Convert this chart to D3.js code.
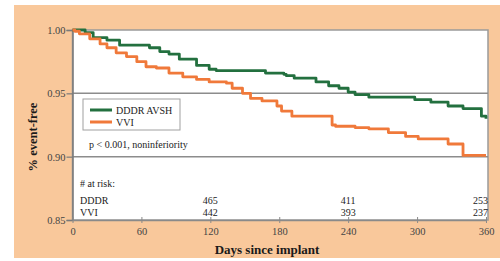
<!DOCTYPE html>
<html lang="en">

<head>
  <script src="https://cdn.jsdelivr.net/npm/d3@7/dist/d3.min.js"></script>

  <style>
    body {
      margin: 0;
      background: #fff;
      overflow: hidden;
    }

    svg text {
      font-family: "Liberation Serif", "DejaVu Serif", serif;
      fill: #222;
    }

    .tick text {
      font-size: 10.5px;
      fill: #444;
    }

    .title {
      font-weight: bold;
      fill: #1a1a1a;
    }

    .note {
      font-size: 10px;
    }
  </style>
</head>

<body>
  <svg id="chart" width="500" height="261"></svg>

  <script>
    // Kaplan-Meier steps (day, fraction event-free)
    var dddrDays = [0, 11, 18, 30, 41, 67, 76, 84, 93, 108, 119, 125, 168, 184, 186, 193, 212, 223, 232, 240, 246, 258, 298, 312, 327, 340, 356, 360];
    var dddrSurv = [1.000, 0.998, 0.994, 0.992, 0.988, 0.986, 0.983, 0.981, 0.977, 0.972, 0.969, 0.968, 0.966, 0.965, 0.964, 0.962, 0.959, 0.956, 0.954, 0.951, 0.949, 0.947, 0.945, 0.943, 0.940, 0.938, 0.932, 0.930];

    var vviDays = [0, 2, 6, 15, 24, 30, 38, 47, 56, 64, 73, 84, 96, 108, 119, 134, 139, 148, 155, 165, 178, 182, 191, 226, 229, 246, 258, 275, 290, 301, 327, 340, 360];
    var vviSurv = [1.000, 0.999, 0.997, 0.993, 0.989, 0.986, 0.982, 0.979, 0.975, 0.971, 0.970, 0.966, 0.963, 0.961, 0.959, 0.958, 0.954, 0.950, 0.946, 0.944, 0.940, 0.936, 0.932, 0.925, 0.924, 0.923, 0.922, 0.919, 0.916, 0.914, 0.910, 0.901, 0.901];

    var seriesNames = ['DDDR AVSH', 'VVI'];
    var seriesColors = ['#23703f', '#f0793a'];

    var xTicks = [0, 60, 120, 180, 240, 300, 360];
    var yTicks = [0.85, 0.90, 0.95, 1.00];
    var gridValues = [0.95, 0.90];

    var riskDays = [120, 240, 360];
    var riskGroups = ['DDDR', 'VVI'];
    var riskDDDR = [465, 411, 253];
    var riskVVI = [442, 393, 237];

    var margin = { top: 30, left: 72.5, bottom: 41, right: 12 };
    var width = 500 - margin.left - margin.right;
    var height = 261 - margin.top - margin.bottom;

    var svg = d3.select('#chart');

    // peach panel behind everything
    svg.append('rect')
      .attr('x', 14).attr('y', 5)
      .attr('width', 486).attr('height', 253)
      .attr('fill', '#f9c89b');

    var g = svg.append('g')
      .attr('transform', 'translate(' + margin.left + ',' + margin.top + ')');

    var xScale = d3.scaleLinear().domain([0, 360]).range([0, width - 2]);
    var yScale = d3.scaleLinear().domain([0.85, 1.00]).range([height, 0]);

    g.append('rect')
      .attr('width', width).attr('height', height)
      .attr('fill', '#fff')
      .attr('stroke', '#9a9a9a')
      .attr('stroke-width', 1.5);

    g.selectAll('.grid')
      .data(gridValues)
      .enter().append('line')
      .attr('class', 'grid')
      .attr('x1', 0).attr('x2', width)
      .attr('y1', function (d) { return yScale(d); })
      .attr('y2', function (d) { return yScale(d); })
      .attr('stroke', '#8c8c8c')
      .attr('stroke-width', 1.5);

    var yAxis = d3.axisLeft(yScale)
      .tickValues(yTicks)
      .tickFormat(d3.format('.2f'))
      .tickSize(6)
      .tickPadding(1);

    var xAxis = d3.axisBottom(xScale)
      .tickValues(xTicks)
      .tickSizeInner(3)
      .tickSizeOuter(0)
      .tickPadding(5);

    var yg = g.append('g').attr('class', 'y axis').call(yAxis);
    yg.select('.domain').attr('stroke', '#7a7a7a').attr('stroke-width', 1.5);
    yg.selectAll('.tick line').attr('stroke', '#7a7a7a').attr('stroke-width', 1.2);

    var xg = g.append('g')
      .attr('class', 'x axis')
      .attr('transform', 'translate(0,' + height + ')')
      .call(xAxis);
    xg.select('.domain').attr('stroke', '#8a8a8a').attr('stroke-width', 1.5);
    xg.selectAll('.tick line')
      .attr('y1', -3)
      .attr('stroke', '#8a8a8a');

    var line = d3.line()
      .x(function (d) { return xScale(d[0]); })
      .y(function (d) { return yScale(d[1]); })
      .curve(d3.curveStepAfter);

    var series = [
      d3.zip(dddrDays, dddrSurv),
      d3.zip(vviDays, vviSurv)
    ];

    g.selectAll('.km')
      .data(series)
      .enter().append('path')
      .attr('class', 'km')
      .attr('d', line)
      .attr('fill', 'none')
      .attr('stroke', function (d, i) { return seriesColors[i]; })
      .attr('stroke-width', 2.8)
      .attr('stroke-linejoin', 'round');

    // legend
    var legend = svg.append('g').attr('transform', 'translate(83,99)');
    legend.append('rect')
      .attr('width', 97).attr('height', 31)
      .attr('fill', '#fff')
      .attr('stroke', '#a0a0a0');

    legend.selectAll('.lg-line')
      .data(seriesNames)
      .enter().append('line')
      .attr('class', 'lg-line')
      .attr('x1', 7).attr('x2', 29)
      .attr('y1', function (d, i) { return 11 + i * 12; })
      .attr('y2', function (d, i) { return 11 + i * 12; })
      .attr('stroke', function (d, i) { return seriesColors[i]; })
      .attr('stroke-width', 3);

    legend.selectAll('.lg-text')
      .data(seriesNames)
      .enter().append('text')
      .attr('class', 'lg-text note')
      .attr('x', 33)
      .attr('y', function (d, i) { return 14.5 + i * 12; })
      .text(function (d) { return d; });

    svg.append('text')
      .attr('class', 'note')
      .attr('x', 89).attr('y', 147.5)
      .text('p < 0.001, noninferiority');

    // numbers at risk
    svg.append('text')
      .attr('class', 'note')
      .attr('x', 80).attr('y', 186.5)
      .text('# at risk:');

    var riskRows = [riskDDDR, riskVVI];
    riskGroups.forEach(function (name, r) {
      var y = 203.5 + r * 12;
      svg.append('text')
        .attr('class', 'note')
        .attr('x', 80).attr('y', y)
        .text(name);

      svg.selectAll('.risk' + r)
        .data(riskRows[r])
        .enter().append('text')
        .attr('class', 'note risk' + r)
        .attr('x', function (d, i) {
          var x = margin.left + xScale(riskDays[i]);
          return i === riskDays.length - 1 ? x + 2 : x;
        })
        .attr('y', y)
        .attr('text-anchor', function (d, i) { return i === riskDays.length - 1 ? 'end' : 'middle'; })
        .text(function (d) { return d; });
    });

    svg.append('text')
      .attr('class', 'title')
      .attr('x', 267).attr('y', 254)
      .attr('text-anchor', 'middle')
      .style('font-size', '13px')
      .text('Days since implant');

    svg.append('text')
      .attr('class', 'title')
      .attr('transform', 'translate(37,137) rotate(-90)')
      .attr('text-anchor', 'middle')
      .style('font-size', '12.5px')
      .text('% event-free');
  </script>
</body>

</html>
